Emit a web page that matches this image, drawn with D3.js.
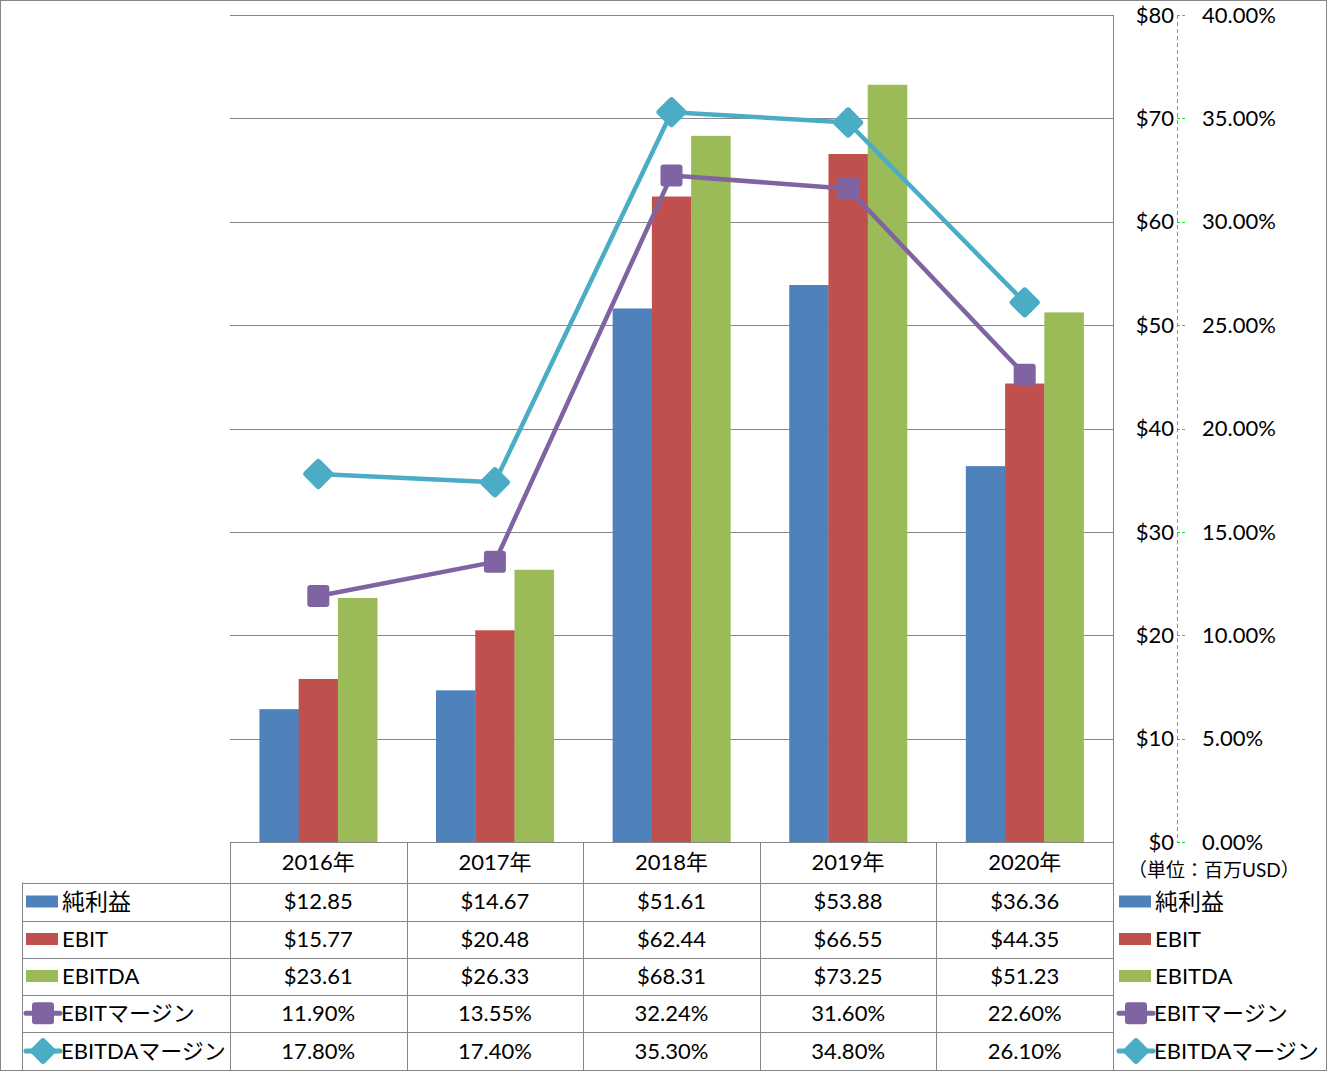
<!DOCTYPE html>
<html><head><meta charset="utf-8">
<script src="https://cdn.jsdelivr.net/npm/d3@7"></script>
<style>body{margin:0;background:#fff}svg{display:block}text{font-family:Lato,"Noto Sans CJK JP",sans-serif;fill:#000}</style>
</head><body><svg id="c" width="1327" height="1071"></svg>
<script>
const years = ["2016年","2017年","2018年","2019年","2020年"];
const netIncome = [12.85,14.67,51.61,53.88,36.36];
const ebit = [15.77,20.48,62.44,66.55,44.35];
const ebitda = [23.61,26.33,68.31,73.25,51.23];
const ebitMargin = [11.90,13.55,32.24,31.60,22.60];
const ebitdaMargin = [17.80,17.40,35.30,34.80,26.10];
const seriesNames = ["純利益","EBIT","EBITDA","EBITマージン","EBITDAマージン"];
const dollarTicks = [0,10,20,30,40,50,60,70,80];
const pctTicks = [0,5,10,15,20,25,30,35,40];
const unitLabel = "（単位：百万USD）";

const colors = ["#4F81BD","#C0504D","#9BBB59","#8064A2","#4BACC6"];
const svg = d3.select("#c");
const L=230, R=1113, T=15, B=842;
const x = d3.scaleBand().domain(years).range([L,R]).padding(0);
const step = x.bandwidth();
const bw = step/4.5;
const sub = d3.scaleBand().domain([0,1,2]).range([0.75*bw, 3.75*bw]).padding(0);
const y = d3.scaleLinear().domain([0,80]).range([B,T]);
const y2 = d3.scaleLinear().domain([0,40]).range([B,T]);
const grey = "#868686";
const FS = 22;

// outer border
svg.append("rect").attr("x",0.5).attr("y",0.5).attr("width",1326).attr("height",1070).attr("fill","none").attr("stroke",grey);

// gridlines
svg.append("g").selectAll("line").data(dollarTicks).join("line")
  .attr("x1",L).attr("x2",R).attr("y1",d=>Math.round(y(d))+0.5).attr("y2",d=>Math.round(y(d))+0.5)
  .attr("stroke",grey).attr("stroke-width",1);

// bars
const barSeries = [netIncome, ebit, ebitda];
barSeries.forEach((vals,si)=>{
  svg.append("g").selectAll("rect").data(vals).join("rect")
    .attr("x",(d,i)=>x(years[i])+sub(si))
    .attr("width",sub.bandwidth()+0.3)
    .attr("y",d=>y(d)).attr("height",d=>B-y(d))
    .attr("fill",colors[si]);
});

// lines
const cx = i => x(years[i])+step/2;
function drawLine(vals, color, shape){
  const line = d3.line().x((d,i)=>cx(i)).y(d=>y2(d));
  svg.append("path").datum(vals).attr("d",line).attr("fill","none").attr("stroke",color).attr("stroke-width",4.5).attr("stroke-linejoin","round");
  vals.forEach((v,i)=>marker(cx(i),y2(v),color,shape));
}
function marker(px,py,color,shape){
  if(shape==="square"){
    svg.append("rect").attr("x",px-11).attr("y",py-11).attr("width",22).attr("height",22).attr("rx",3)
      .attr("fill",color);
  } else {
    svg.append("rect").attr("x",px-11.5).attr("y",py-11.5).attr("width",23).attr("height",23).attr("rx",3)
      .attr("fill",color).attr("transform",`rotate(45 ${px} ${py})`);
  }
}
drawLine(ebitMargin, colors[3], "square");
drawLine(ebitdaMargin, colors[4], "diamond");

// right axis dashed line
svg.append("line").attr("x1",1177.5).attr("x2",1177.5).attr("y1",T).attr("y2",B)
  .attr("stroke","#22DD22").attr("stroke-dasharray","4,3").attr("stroke-width",1);
svg.append("g").selectAll("line").data(dollarTicks).join("line")
  .attr("x1",1177).attr("x2",1186).attr("y1",d=>Math.round(y(d))+0.5).attr("y2",d=>Math.round(y(d))+0.5)
  .attr("stroke","#22DD22").attr("stroke-dasharray","3,2");
svg.append("g").selectAll("text").data(dollarTicks).join("text")
  .attr("x",1174).attr("y",d=>y(d)).attr("dy","0.35em").attr("text-anchor","end")
  .attr("font-size",FS).text(d=>"$"+d);
svg.append("g").selectAll("text").data(pctTicks).join("text")
  .attr("x",1202).attr("y",d=>y2(d)).attr("dy","0.35em").attr("text-anchor","start")
  .attr("font-size",FS).text(d=>d.toFixed(2)+"%");
svg.append("text").attr("x",1128).attr("y",870).attr("dy","0.35em").attr("font-size",19).attr("fill","#000").text(unitLabel);

// table
const rowY = [842,882.5,920.5,957.5,994.5,1032,1070];
const tg = svg.append("g").attr("stroke",grey).attr("stroke-width",1);
tg.append("line").attr("x1",L).attr("x2",R).attr("y1",842.5).attr("y2",842.5);
rowY.slice(1,6).forEach(yy=>tg.append("line").attr("x1",22).attr("x2",R).attr("y1",Math.round(yy)+0.5).attr("y2",Math.round(yy)+0.5));
tg.append("line").attr("x1",22.5).attr("x2",22.5).attr("y1",882.5).attr("y2",1070);
years.forEach((yr,i)=>{
  const xx = Math.round(x(yr))+0.5;
  tg.append("line").attr("x1",xx).attr("x2",xx).attr("y1",842).attr("y2",1070);
});
tg.append("line").attr("x1",R+0.5).attr("x2",R+0.5).attr("y1",T).attr("y2",1070);

// header labels
svg.append("g").selectAll("text").data(years).join("text")
  .attr("x",d=>x(d)+step/2).attr("y",(rowY[0]+rowY[1])/2).attr("dy","0.35em").attr("text-anchor","middle")
  .attr("font-size",FS).text(d=>d);

const rowsData = [
  netIncome.map(v=>"$"+v.toFixed(2)),
  ebit.map(v=>"$"+v.toFixed(2)),
  ebitda.map(v=>"$"+v.toFixed(2)),
  ebitMargin.map(v=>v.toFixed(2)+"%"),
  ebitdaMargin.map(v=>v.toFixed(2)+"%")
];
rowsData.forEach((row,r)=>{
  const cyy = (rowY[r+1]+rowY[r+2])/2;
  svg.append("g").selectAll("text").data(row).join("text")
    .attr("x",(d,i)=>x(years[i])+step/2).attr("y",cyy).attr("dy","0.35em").attr("text-anchor","middle")
    .attr("font-size",FS).text(d=>d);
});

// legend keys (left in table and right)
function legendKey(lx, cyy, si){
  if(si<3){
    svg.append("rect").attr("x",lx).attr("y",cyy-6).attr("width",32).attr("height",12).attr("fill",colors[si]);
  } else {
    svg.append("line").attr("x1",lx).attr("x2",lx+34).attr("y1",cyy).attr("y2",cyy).attr("stroke",colors[si]).attr("stroke-width",5).attr("stroke-linecap","round");
    const mx = lx+17;
    if(si===3){
      svg.append("rect").attr("x",mx-11).attr("y",cyy-11).attr("width",22).attr("height",22).attr("rx",3).attr("fill",colors[si]);
    } else {
      svg.append("rect").attr("x",mx-10).attr("y",cyy-10).attr("width",20).attr("height",20).attr("rx",3).attr("fill",colors[si]).attr("transform",`rotate(45 ${mx} ${cyy})`);
    }
  }
  svg.append("text").attr("x",lx+(si<3?36:35)).attr("y",cyy).attr("dy","0.35em").attr("font-size",si===0?23:FS).text(seriesNames[si]);
}
seriesNames.forEach((n,si)=>{
  const cyy = (rowY[si+1]+rowY[si+2])/2;
  legendKey(26, cyy, si);
  legendKey(1119, cyy, si);
});
</script></body></html>
